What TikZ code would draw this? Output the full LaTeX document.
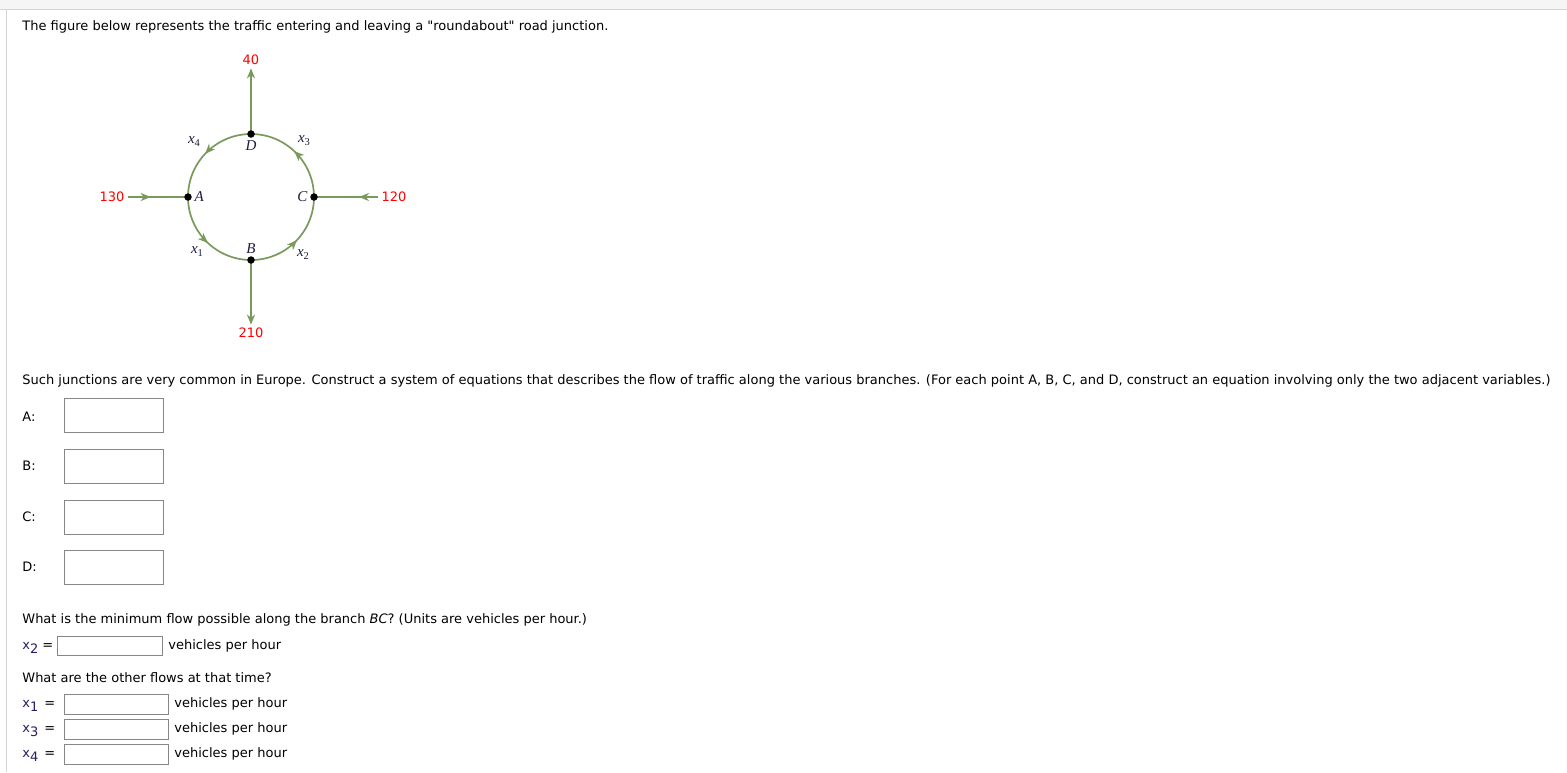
\documentclass[tikz,border=0pt]{standalone}
\usepackage{fontspec}
\usepackage{tikz}
\usetikzlibrary{arrows.meta,decorations.markings,positioning,backgrounds}

\newfontfamily\webfont{DejaVu Sans}
\newfontfamily\figfont{Liberation Serif}

\definecolor{road}{RGB}{122,154,92}
\definecolor{figink}{RGB}{30,30,60}
\definecolor{varink}{RGB}{40,30,100}
\definecolor{boxline}{RGB}{135,135,135}
\definecolor{frameline}{RGB}{212,212,212}
\definecolor{band}{RGB}{245,245,245}

% variable names in the figure and in the answer rows
\newcommand{\figx}[1]{x\raisebox{-0.45ex}{\upshape\fontsize{10.5}{11}\selectfont #1}}
\newcommand{\webx}[1]{{\color{varink}x\raisebox{-0.6ex}{#1}}}

\tikzset{
  txt/.style={anchor=base west, inner sep=0pt, font=\webfont\fontsize{13}{15}\selectfont},
  flow/.style={inner sep=3pt, text=red, font=\webfont\fontsize{13}{15}\selectfont},
  lbl/.style={inner sep=0pt, text=figink, font=\figfont\itshape\fontsize{15}{17}\selectfont},
  dot/.style={circle, fill=black, inner sep=0pt, minimum size=7.5pt},
  ring/.style={draw=road, color=road, line width=1.7pt},
  roadline/.style={draw=road, color=road, line width=2.1pt},
  tip/.style={-{Stealth[length=10pt, width=8pt, inset=3pt]}},
  midarrow/.style={postaction={decorate, decoration={markings,
      mark=at position #1 with {\arrow{Stealth[length=10pt, width=8pt, inset=3pt]}}}}},
  midarrow/.default=0.52,
  field/.style={draw=boxline, line width=1pt, inner sep=0pt, anchor=north west},
}

\begin{document}
\begin{tikzpicture}[x=1pt, y=-1pt, thick]
  \useasboundingbox (0,0) rectangle (1567,772);

  % Page frame
  \begin{scope}[on background layer]
    \fill[white] (0,0) rectangle (1567,772);
    \fill[band] (0,0) rectangle (1567,9);
    \draw[frameline, line width=1pt] (0,9.5) -- (1567,9.5);
    \draw[frameline, line width=1pt] (6.5,10) -- (6.5,772);
  \end{scope}

  % Question
  \node[txt] (intro) at (22,30) {The figure below represents the traffic entering and leaving a "roundabout" road junction.};

  % Junction points
  \node[dot] (A) at (188,197) {};
  \node[dot] (B) at (251,260) {};
  \node[dot] (C) at (314,197) {};
  \node[dot] (D) at (251,134) {};
  \node[lbl, right=2pt of A] (tA) {A};
  \node[lbl, left=2pt of C] (tC) {C};
  \node[lbl, below=2pt of D] (tD) {D};
  \node[lbl, above=1.5pt of B] (tB) {B};

  % Ring road
  \begin{scope}[on background layer]
    \draw[ring, midarrow] (A.center) arc[start angle=180, end angle=90, radius=63];
    \draw[ring, midarrow] (B.center) arc[start angle=90, end angle=0, radius=63];
    \draw[ring, midarrow] (C.center) arc[start angle=0, end angle=-90, radius=63];
    \draw[ring, midarrow] (D.center) arc[start angle=270, end angle=180, radius=63];
  \end{scope}
  \node[lbl] (x1) at (197,252) {\figx{1}};
  \node[lbl] (x2) at (303,255) {\figx{2}};
  \node[lbl] (x3) at (304,141) {\figx{3}};
  \node[lbl] (x4) at (194,142) {\figx{4}};

  % Roads in and out
  \node[flow] (in130) at (112,197) {130};
  \node[flow] (in120) at (394,197) {120};
  \node[flow] (out40) at (251,60) {40};
  \node[flow] (out210) at (251,333) {210};
  \begin{scope}[on background layer]
    \draw[roadline, midarrow=0.38] (in130) -- (A.center);
    \draw[roadline, midarrow=0.3] (in120) -- (C.center);
    \draw[roadline, tip] (D.center) -- (out40);
    \draw[roadline, tip] (B.center) -- (out210);
  \end{scope}

  % System of equations
  \node[txt] (task) at (22,384) {Such junctions are very common in Europe. Construct a system of equations that describes the flow of traffic along the various branches. (For each point A, B, C, and D, construct an equation involving only the two adjacent variables.)};
  \node[field, minimum width=99pt, minimum height=34pt] (boxA) at (63.5,397.5) {};
  \node[field, minimum width=99pt, minimum height=34pt] (boxB) at (63.5,448.5) {};
  \node[field, minimum width=99pt, minimum height=34pt] (boxC) at (63.5,499.5) {};
  \node[field, minimum width=99pt, minimum height=34pt] (boxD) at (63.5,549.5) {};
  \node[txt] (eqA) at (22,421) {A:};
  \node[txt] (eqB) at (22,470) {B:};
  \node[txt] (eqC) at (22,521.5) {C:};
  \node[txt] (eqD) at (22,571.5) {D:};

  % Minimum flow
  \node[txt] (ask) at (22,623.5) {What is the minimum flow possible along the branch \textit{BC}? (Units are vehicles per hour.)};
  \node[txt] (v2) at (22,649.5) {\webx{2}};
  \node[txt] (q2) at (42,649.5) {=};
  \node[field, minimum width=105pt, minimum height=19pt] (box2) at (56.5,636) {};
  \node[txt] (u2) at (168,649.5) {vehicles per hour};

  % Other flows
  \node[txt] (other) at (22,682.5) {What are the other flows at that time?};
  \node[txt] (v1) at (22,707.5) {\webx{1}};
  \node[txt] (q1) at (44,707.5) {=};
  \node[field, minimum width=104pt, minimum height=20pt] (box1) at (64,693.5) {};
  \node[txt] (u1) at (174,707.5) {vehicles per hour};
  \node[txt] (v3) at (22,732.5) {\webx{3}};
  \node[txt] (q3) at (44,732.5) {=};
  \node[field, minimum width=104pt, minimum height=20pt] (box3) at (64,718.5) {};
  \node[txt] (u3) at (174,732.5) {vehicles per hour};
  \node[txt] (v4) at (22,757.5) {\webx{4}};
  \node[txt] (q4) at (44,757.5) {=};
  \node[field, minimum width=104pt, minimum height=20pt] (box4) at (64,743.5) {};
  \node[txt] (u4) at (174,757.5) {vehicles per hour};
\end{tikzpicture}
\end{document}
